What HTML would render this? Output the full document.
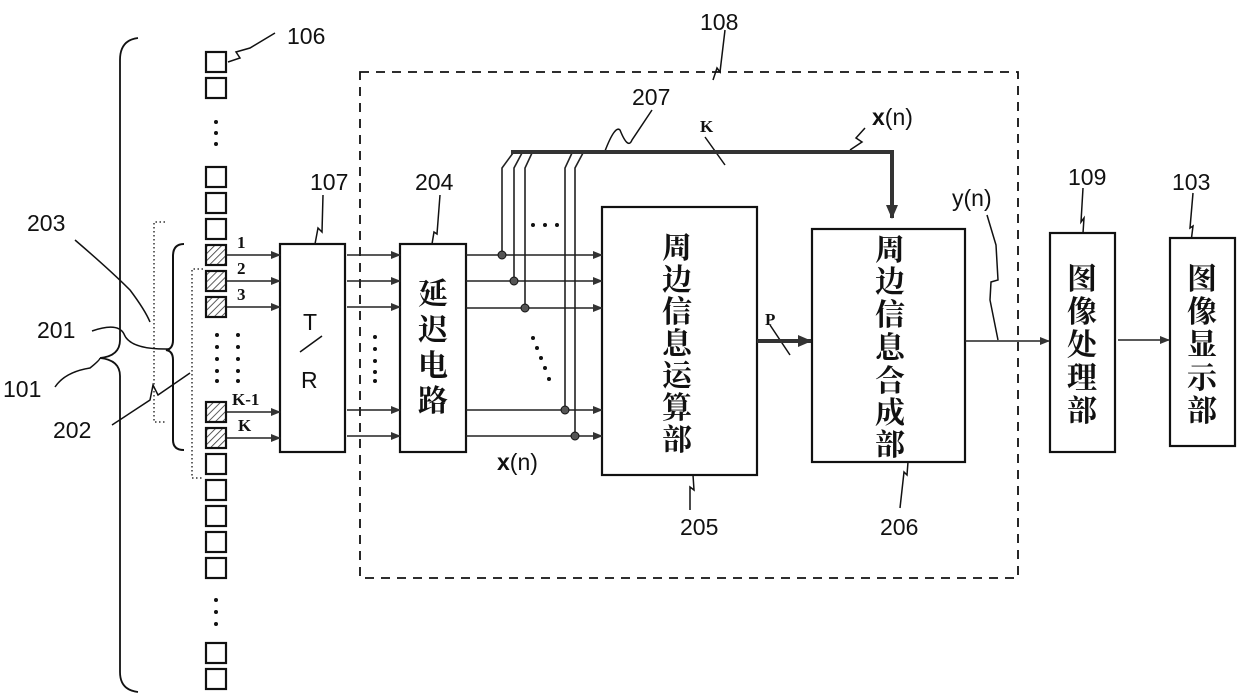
<!DOCTYPE html>
<html><head><meta charset="utf-8"><style>
html,body{margin:0;padding:0;background:#fff;}
svg{display:block;}
.l{font-family:"Liberation Sans",sans-serif;font-size:23px;fill:#111;}
.s{font-family:"Liberation Serif",serif;font-weight:bold;font-size:17px;fill:#111;}
.c{font-family:"Noto Serif CJK SC","Noto Sans CJK SC",serif;font-weight:bold;font-size:30px;fill:#111;}
</style></head><body>
<svg width="1240" height="694" viewBox="0 0 1240 694" xmlns="http://www.w3.org/2000/svg">
<defs>
<pattern id="h" width="5" height="5" patternUnits="userSpaceOnUse" patternTransform="rotate(45)"><rect width="5" height="5" fill="#fff"/><line x1="0" y1="0" x2="0" y2="5" stroke="#333" stroke-width="1.6"/></pattern>
<marker id="a" markerWidth="10" markerHeight="8" refX="9" refY="4" orient="auto" markerUnits="userSpaceOnUse"><path d="M0,0 L10,4 L0,8 z" fill="#333"/></marker>
<marker id="b" markerWidth="14" markerHeight="12" refX="13" refY="6" orient="auto" markerUnits="userSpaceOnUse"><path d="M0,0 L14,6 L0,12 z" fill="#333"/></marker>
</defs>
<g fill="none" stroke="#111" stroke-width="2">
<path d="M138,38 Q120,40 120,60 L120,340 Q120,356 100,358 Q120,360 120,376 L120,672 Q120,690 138,692" stroke-width="1.8"/>
<path d="M184,244 Q173,244 173,256 L173,340 Q173,349 166,350 Q173,351 173,360 L173,440 Q173,450 184,450" stroke-width="2"/>
</g>
<g fill="none" stroke="#333" stroke-width="1.5" stroke-dasharray="1.5,2.5">
<path d="M165,222 L154,222 L154,422 L165,422"/>
<path d="M203,269 L192,269 L192,478 L203,478"/>
</g>
<g stroke="#111" stroke-width="2.2" fill="#fff">
<rect x="206" y="52" width="20" height="20"/><rect x="206" y="78" width="20" height="20"/>
<rect x="206" y="167" width="20" height="20"/><rect x="206" y="193" width="20" height="20"/><rect x="206" y="219" width="20" height="20"/>
<rect x="206" y="245" width="20" height="20" fill="url(#h)"/><rect x="206" y="271" width="20" height="20" fill="url(#h)"/><rect x="206" y="297" width="20" height="20" fill="url(#h)"/>
<rect x="206" y="402" width="20" height="20" fill="url(#h)"/><rect x="206" y="428" width="20" height="20" fill="url(#h)"/>
<rect x="206" y="454" width="20" height="20"/><rect x="206" y="480" width="20" height="20"/><rect x="206" y="506" width="20" height="20"/><rect x="206" y="532" width="20" height="20"/><rect x="206" y="558" width="20" height="20"/>
<rect x="206" y="643" width="20" height="20"/><rect x="206" y="669" width="20" height="20"/>
</g>
<g fill="#111">
<circle cx="216" cy="122" r="2"/><circle cx="216" cy="133" r="2"/><circle cx="216" cy="144" r="2"/>
<circle cx="216" cy="600" r="2"/><circle cx="216" cy="612" r="2"/><circle cx="216" cy="624" r="2"/>
<circle cx="217" cy="335" r="2"/><circle cx="217" cy="347" r="2"/><circle cx="217" cy="359" r="2"/><circle cx="217" cy="371" r="2"/><circle cx="217" cy="381" r="2"/>
<circle cx="238" cy="335" r="2"/><circle cx="238" cy="347" r="2"/><circle cx="238" cy="359" r="2"/><circle cx="238" cy="371" r="2"/><circle cx="238" cy="381" r="2"/>
<circle cx="375" cy="337" r="2"/><circle cx="375" cy="349" r="2"/><circle cx="375" cy="361" r="2"/><circle cx="375" cy="372" r="2"/><circle cx="375" cy="381" r="2"/>
<circle cx="533" cy="225" r="2"/><circle cx="545" cy="225" r="2"/><circle cx="557" cy="225" r="2"/>
<circle cx="533" cy="338" r="2"/><circle cx="537" cy="348" r="2"/><circle cx="541" cy="358" r="2"/><circle cx="545" cy="368" r="2"/><circle cx="549" cy="379" r="2"/>
</g>
<g fill="none" stroke="#111" stroke-width="1.5">
<path d="M228,62 L240,58 L236,52 L250,48 L275,33"/>
<path d="M75,240 Q110,270 130,290 Q145,310 150,322"/>
<path d="M92,331 Q118,322 124,334 Q130,350 170,349"/>
<path d="M55,387 Q65,372 90,368 Q100,360 100,358"/>
<path d="M112,425 L150,400 L153,385 L158,395 L190,373"/>
<path d="M315,244 L318,228 L322,232 L323,195"/>
<path d="M432,244 L434,232 L437,234 L440,195"/>
<path d="M713,80 L717,68 L720,72 L725,30"/>
<path d="M605,151 Q615,125 620,130 Q628,150 632,140 L652,110"/>
<path d="M850,150 L862,142 L856,138 L865,128"/>
<path d="M693,475 L694,490 L690,487 L690,510"/>
<path d="M908,462 L907,475 L904,472 L900,508"/>
<path d="M998,340 L990,300 L991,282 L998,280 L996,245 L987,215"/>
<path d="M1083,233 L1084,218 L1081,222 L1083,188"/>
<path d="M1191,242 L1193,226 L1190,228 L1193,193"/>
<path d="M705,137 L725,165"/><path d="M770,325 L790,355"/>
</g>
<rect x="360" y="72" width="658" height="506" fill="none" stroke="#111" stroke-width="1.8" stroke-dasharray="9,7"/>
<g fill="#fff" stroke="#111" stroke-width="2.2">
<rect x="280" y="244" width="65" height="208"/>
<rect x="400" y="244" width="66" height="208"/>
<rect x="602" y="207" width="155" height="268"/>
<rect x="812" y="229" width="153" height="233"/>
<rect x="1050" y="233" width="65" height="219"/>
<rect x="1170" y="238" width="65" height="208"/>
</g>
<g stroke="#222" stroke-width="1.6" marker-end="url(#a)">
<line x1="227" y1="255" x2="280" y2="255"/><line x1="227" y1="281" x2="280" y2="281"/><line x1="227" y1="307" x2="280" y2="307"/>
<line x1="227" y1="412" x2="280" y2="412"/><line x1="227" y1="438" x2="280" y2="438"/>
<line x1="347" y1="255" x2="400" y2="255"/><line x1="347" y1="281" x2="400" y2="281"/><line x1="347" y1="307" x2="400" y2="307"/>
<line x1="347" y1="410" x2="400" y2="410"/><line x1="347" y1="436" x2="400" y2="436"/>
<line x1="466" y1="255" x2="602" y2="255"/><line x1="466" y1="281" x2="602" y2="281"/><line x1="466" y1="308" x2="602" y2="308"/>
<line x1="466" y1="410" x2="602" y2="410"/><line x1="466" y1="436" x2="602" y2="436"/>
<line x1="965" y1="341" x2="1049" y2="341"/>
<line x1="1118" y1="340" x2="1169" y2="340"/>
</g>
<g fill="none" stroke="#222" stroke-width="1.6">
<path d="M502,255 L502,168 L513,153"/><path d="M514,281 L514,168 L522,153"/><path d="M525,308 L525,168 L532,153"/>
<path d="M565,410 L565,168 L572,153"/><path d="M575,436 L575,168 L583,153"/>
</g>
<g fill="#555" stroke="#111" stroke-width="1"><circle cx="502" cy="255" r="4"/><circle cx="514" cy="281" r="4"/><circle cx="525" cy="308" r="4"/><circle cx="565" cy="410" r="4"/><circle cx="575" cy="436" r="4"/></g>
<path d="M511,152 L892,152 L892,218" fill="none" stroke="#333" stroke-width="4" marker-end="url(#b)"/>
<line x1="757" y1="341" x2="811" y2="341" stroke="#333" stroke-width="4" marker-end="url(#b)"/>
<text class="l" x="287" y="44">106</text>
<text class="l" x="27" y="231">203</text>
<text class="l" x="37" y="338">201</text>
<text class="l" x="3" y="397">101</text>
<text class="l" x="53" y="438">202</text>
<text class="l" x="310" y="190">107</text>
<text class="l" x="415" y="190">204</text>
<text class="l" x="700" y="30">108</text>
<text class="l" x="632" y="105">207</text>
<text class="l" x="680" y="535">205</text>
<text class="l" x="880" y="535">206</text>
<text class="l" x="1068" y="185">109</text>
<text class="l" x="1172" y="190">103</text>
<text class="l" x="952" y="206">y(n)</text>
<text class="l" x="497" y="470"><tspan font-weight="bold">x</tspan>(n)</text>
<text class="l" x="872" y="125"><tspan font-weight="bold">x</tspan>(n)</text>
<text class="s" x="237" y="248">1</text><text class="s" x="237" y="274">2</text><text class="s" x="237" y="300">3</text>
<text class="s" x="232" y="405">K-1</text><text class="s" x="238" y="431">K</text>
<text class="s" x="700" y="132" font-size="19">K</text>
<text class="s" x="765" y="325" font-size="19">P</text>
<text class="l" x="303" y="330" font-size="26">T</text>
<line x1="300" y1="352" x2="322" y2="336" stroke="#111" stroke-width="1.5"/>
<text class="l" x="301" y="388" font-size="26">R</text>
<text class="c" text-anchor="middle" font-size="29"><tspan x="433" y="304">延</tspan><tspan x="433" y="340">迟</tspan><tspan x="433" y="376">电</tspan><tspan x="433" y="411">路</tspan></text>
<text class="c" text-anchor="middle" font-size="31"><tspan x="677" y="258">周</tspan><tspan x="677" y="290">边</tspan><tspan x="677" y="322">信</tspan><tspan x="677" y="354">息</tspan><tspan x="677" y="386">运</tspan><tspan x="677" y="418">算</tspan><tspan x="677" y="450">部</tspan></text>
<text class="c" text-anchor="middle" font-size="31"><tspan x="890" y="260">周</tspan><tspan x="890" y="292">边</tspan><tspan x="890" y="325">信</tspan><tspan x="890" y="358">息</tspan><tspan x="890" y="391">合</tspan><tspan x="890" y="423">成</tspan><tspan x="890" y="455">部</tspan></text>
<text class="c" text-anchor="middle" font-size="30"><tspan x="1082" y="289">图</tspan><tspan x="1082" y="322">像</tspan><tspan x="1082" y="355">处</tspan><tspan x="1082" y="388">理</tspan><tspan x="1082" y="421">部</tspan></text>
<text class="c" text-anchor="middle" font-size="30"><tspan x="1202" y="289">图</tspan><tspan x="1202" y="322">像</tspan><tspan x="1202" y="355">显</tspan><tspan x="1202" y="388">示</tspan><tspan x="1202" y="421">部</tspan></text>
</svg>
</body></html>
